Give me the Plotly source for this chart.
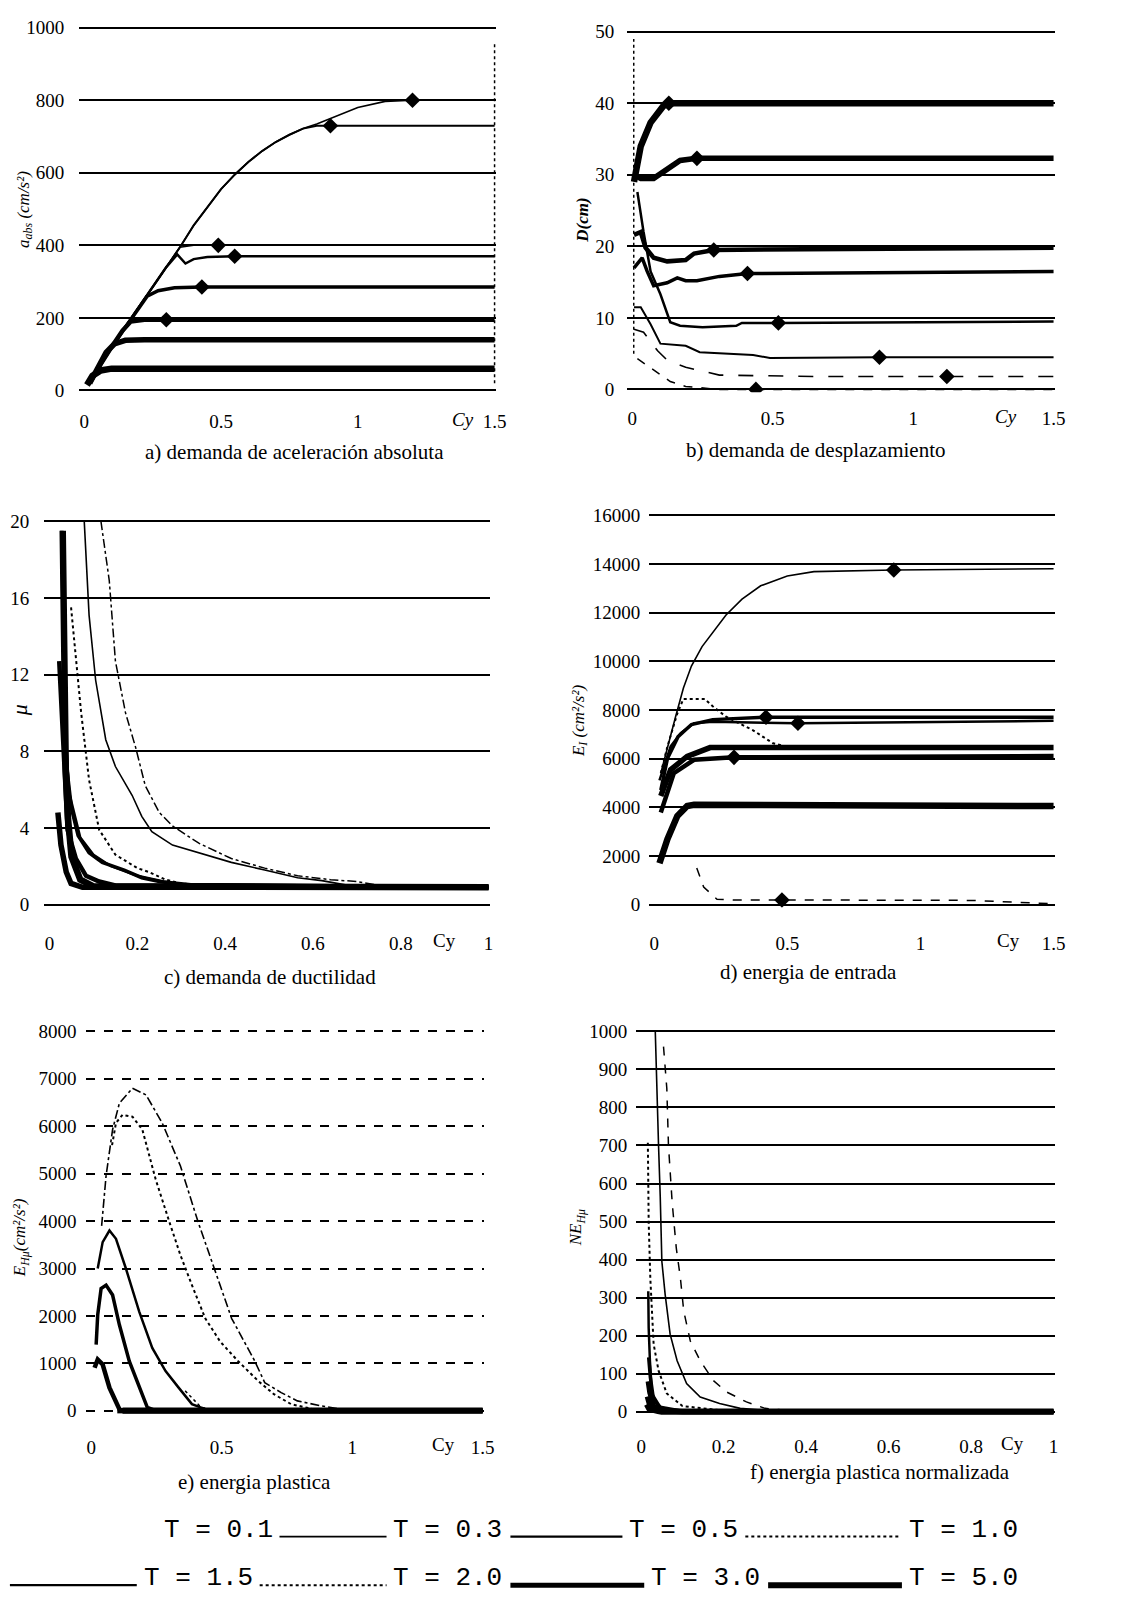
import plotly.graph_objects as go

W, H = 1126, 1609

PERIODS = ["T = 0.1", "T = 0.3", "T = 0.5", "T = 1.0", "T = 1.5", "T = 2.0", "T = 3.0", "T = 5.0"]
WIDTHS = [1.5, 1.6, 2.0, 2.5, 3.5, 4.5, 5.5, 6.5]
DASH_A = ["solid"] * 8
DASH_B = ["dash", "longdash", "solid", "solid", "solid", "solid", "solid", "solid"]
DASH_C = ["dashdot", "solid", "dot", "solid", "solid", "solid", "solid", "solid"]
DASH_D = ["dash", "solid", "dot", "solid", "solid", "solid", "solid", "solid"]
DASH_E = ["dot", "dashdot", "dot", "solid", "solid", "solid", "solid", "solid"]
DASH_F = ["dash", "solid", "dot", "solid", "solid", "solid", "solid", "solid"]

X15_VALS = [0, 0.5, 1, 1.5]
X15_TEXT = ["0", "0.5", "1", "1.5"]
X1_VALS = [0, 0.2, 0.4, 0.6, 0.8, 1]
X1_TEXT = ["0", "0.2", "0.4", "0.6", "0.8", "1"]

# ---------------- a) absolute acceleration demand (cm/s2) ----------------
A01_X = [0.02, 0.05, 0.1, 0.15, 0.2, 0.25, 0.3, 0.35, 0.4, 0.49, 1.5]
A01_Y = [20, 60, 120, 175, 230, 285, 340, 395, 400, 400, 400]
A03_X = [0.02, 0.05, 0.1, 0.15, 0.2, 0.25, 0.3, 0.35, 0.4, 0.45, 0.5, 0.55, 0.6, 0.65, 0.7, 0.75, 0.8, 0.85, 0.9, 1.0, 1.1, 1.2, 1.5]
A03_Y = [20, 60, 120, 175, 230, 285, 340, 395, 455, 505, 555, 595, 630, 660, 685, 705, 722, 735, 750, 780, 797, 800, 800]
A05_X = [0.02, 0.05, 0.1, 0.15, 0.2, 0.25, 0.3, 0.35, 0.4, 0.45, 0.5, 0.55, 0.6, 0.65, 0.7, 0.75, 0.8, 0.85, 0.9, 1.5]
A05_Y = [20, 60, 120, 175, 230, 285, 340, 395, 455, 505, 555, 595, 630, 660, 685, 705, 722, 730, 730, 730]
A10_X = [0.02, 0.05, 0.1, 0.15, 0.2, 0.25, 0.3, 0.34, 0.37, 0.4, 0.45, 0.55, 1.5]
A10_Y = [20, 60, 120, 175, 230, 285, 340, 375, 350, 362, 368, 370, 370]
A15_X = [0.02, 0.05, 0.1, 0.15, 0.2, 0.23, 0.27, 0.33, 0.43, 1.5]
A15_Y = [20, 60, 120, 175, 230, 260, 275, 283, 285, 285]
A20_X = [0.02, 0.05, 0.1, 0.14, 0.17, 0.22, 0.3, 1.5]
A20_Y = [20, 60, 120, 165, 190, 195, 195, 195]
A30_X = [0.02, 0.05, 0.08, 0.11, 0.15, 0.22, 1.5]
A30_Y = [20, 65, 105, 128, 138, 140, 140]
A50_X = [0.01, 0.03, 0.06, 0.1, 1.5]
A50_Y = [15, 40, 55, 60, 60]
A_MK_X = [1.2, 0.9, 0.49, 0.55, 0.43, 0.3]
A_MK_Y = [800, 730, 400, 370, 285, 195]

# ---------------- b) displacement demand (cm) ----------------
B01_X = [0.018, 0.076, 0.135, 0.19, 0.31, 0.44, 1.5]
B01_Y = [4.3, 2.7, 1.1, 0.4, 0.0, 0.0, 0.0]
B03_X = [0.006, 0.04, 0.09, 0.124, 0.19, 0.31, 0.66, 1.12, 1.5]
B03_Y = [8.4, 8.0, 5.4, 4.1, 3.1, 2.0, 1.8, 1.8, 1.8]
B05_X = [0.006, 0.03, 0.065, 0.1, 0.19, 0.24, 0.43, 0.49, 0.88, 1.5]
B05_Y = [11.5, 11.5, 9.1, 6.4, 6.1, 5.2, 4.8, 4.4, 4.5, 4.5]
B10_X = [0.018, 0.04, 0.065, 0.1, 0.135, 0.17, 0.25, 0.37, 0.39, 0.52, 1.5]
B10_Y = [27.6, 22.0, 16.5, 13.3, 9.4, 8.9, 8.7, 8.9, 9.3, 9.3, 9.5]
B15_X = [0.006, 0.035, 0.053, 0.076, 0.124, 0.16, 0.19, 0.23, 0.31, 0.41, 1.5]
B15_Y = [17.0, 18.4, 16.5, 14.5, 14.9, 15.6, 15.2, 15.2, 15.8, 16.2, 16.5]
B20_X = [0.006, 0.03, 0.047, 0.076, 0.124, 0.19, 0.22, 0.29, 1.5]
B20_Y = [21.6, 22.0, 19.8, 18.4, 17.9, 18.1, 19.0, 19.5, 19.8]
B30_X = [0.006, 0.03, 0.076, 0.124, 0.17, 0.23, 1.5]
B30_Y = [30.0, 29.5, 29.5, 30.8, 32.0, 32.3, 32.3]
B50_X = [0.006, 0.03, 0.065, 0.11, 0.13, 1.5]
B50_Y = [29.0, 34.0, 37.3, 39.6, 40.0, 40.0]
B_MK_X = [0.13, 0.23, 0.29, 0.41, 0.52, 0.88, 1.12, 0.44]
B_MK_Y = [40.0, 32.3, 19.5, 16.2, 9.3, 4.5, 1.8, 0.0]

# ---------------- c) ductility demand ----------------
C01_X = [0.117, 0.136, 0.15, 0.173, 0.196, 0.218, 0.25, 0.28, 0.34, 0.414, 0.49, 0.565, 0.64, 0.7, 0.75, 1.0]
C01_Y = [20, 16.9, 12.7, 10, 8.2, 6.2, 4.8, 4.1, 3.2, 2.4, 1.9, 1.5, 1.3, 1.2, 1.0, 0.9]
C03_X = [0.079, 0.09, 0.105, 0.128, 0.15, 0.188, 0.21, 0.233, 0.28, 0.34, 0.414, 0.49, 0.565, 0.62, 0.68, 1.0]
C03_Y = [20, 15.1, 11.7, 8.6, 7.2, 5.7, 4.6, 3.8, 3.1, 2.7, 2.2, 1.8, 1.4, 1.25, 1.0, 0.9]
C05_X = [0.049, 0.064, 0.072, 0.09, 0.113, 0.15, 0.2, 0.226, 0.264, 0.3, 0.4, 1.0]
C05_Y = [15.5, 11.7, 10, 6.5, 3.9, 2.6, 1.9, 1.7, 1.3, 1.1, 0.95, 0.9]
C10_X = [0.036, 0.045, 0.07, 0.1, 0.14, 0.2, 0.26, 0.35, 1.0]
C10_Y = [9.0, 5.8, 3.5, 2.6, 2.0, 1.5, 1.2, 1.0, 0.9]
C15_X = [0.028, 0.031, 0.034, 0.04, 0.05, 0.065, 0.09, 0.12, 0.17, 0.21, 0.25, 0.3, 1.0]
C15_Y = [19.5, 15, 10, 7, 5, 3.6, 2.7, 2.2, 1.8, 1.4, 1.2, 1.05, 0.9]
C20_X = [0.022, 0.028, 0.034, 0.041, 0.06, 0.083, 0.113, 0.15, 1.0]
C20_Y = [12.7, 10, 6.5, 3.9, 2.4, 1.5, 1.2, 1.0, 0.9]
C30_X = [0.019, 0.026, 0.038, 0.049, 0.075, 1.0]
C30_Y = [4.8, 3.1, 1.7, 1.1, 0.9, 0.9]
C50_X = [0.03, 0.032, 0.034, 0.037, 0.042, 0.05, 0.07, 0.1, 1.0]
C50_Y = [19.5, 15, 11, 7, 4.5, 2.5, 1.3, 0.95, 0.9]

# ---------------- d) input energy (cm2/s2) ----------------
D01_X = [0.16, 0.186, 0.236, 0.3, 0.48, 1.2, 1.35, 1.5]
D01_Y = [1500, 720, 220, 190, 190, 170, 100, 30]
D03_X = [0.025, 0.05, 0.08, 0.11, 0.14, 0.18, 0.22, 0.27, 0.33, 0.4, 0.5, 0.6, 0.9, 1.5]
D03_Y = [5400, 6500, 7700, 8900, 9800, 10600, 11200, 11900, 12550, 13100, 13500, 13680, 13750, 13800]
D05_X = [0.025, 0.05, 0.087, 0.11, 0.19, 0.22, 0.27, 0.37, 0.446, 0.5, 1.5]
D05_Y = [5400, 6500, 7850, 8450, 8450, 8150, 7720, 7170, 6630, 6480, 6450]
D10_X = [0.02, 0.062, 0.1, 0.15, 0.22, 0.54, 1.5]
D10_Y = [5100, 6500, 7040, 7450, 7510, 7450, 7550]
D15_X = [0.025, 0.05, 0.09, 0.14, 0.22, 0.42, 1.5]
D15_Y = [4700, 6000, 6900, 7400, 7600, 7700, 7700]
D20_X = [0.025, 0.074, 0.15, 0.3, 1.5]
D20_Y = [3780, 5400, 5950, 6050, 6100]
D30_X = [0.025, 0.062, 0.124, 0.21, 1.5]
D30_Y = [4460, 5540, 6090, 6450, 6450]
D50_X = [0.02, 0.05, 0.087, 0.124, 0.15, 1.5]
D50_Y = [1700, 2690, 3640, 4050, 4100, 4050]
D_MK_X = [0.9, 0.54, 0.42, 0.3, 0.48]
D_MK_Y = [13750, 7450, 7700, 6050, 190]

# ---------------- e) plastic energy (cm2/s2) ----------------
E01_X = [0.36, 0.39, 0.42, 0.47, 1.5]
E01_Y = [420, 250, 80, 0, 0]
E03_X = [0.04, 0.057, 0.082, 0.108, 0.158, 0.21, 0.272, 0.342, 0.41, 0.462, 0.538, 0.627, 0.665, 0.728, 0.79, 0.88, 0.98, 1.5]
E03_Y = [3900, 4950, 5930, 6485, 6800, 6660, 6070, 5160, 3975, 3140, 1950, 1046, 593, 383, 209, 105, 14, 0]
E05_X = [0.08, 0.095, 0.12, 0.158, 0.196, 0.247, 0.3, 0.342, 0.386, 0.437, 0.494, 0.563, 0.64, 0.7, 0.766, 0.85, 0.95, 1.5]
E05_Y = [5600, 6070, 6240, 6200, 5930, 4880, 3975, 3280, 2650, 1950, 1460, 1046, 628, 350, 140, 35, 0, 0]
E10_X = [0.025, 0.044, 0.07, 0.095, 0.133, 0.184, 0.234, 0.285, 0.335, 0.386, 0.437, 0.5, 1.5]
E10_Y = [3000, 3556, 3800, 3626, 3000, 2092, 1325, 837, 488, 140, 35, 0, 0]
E15_X = [0.019, 0.025, 0.038, 0.057, 0.082, 0.108, 0.146, 0.184, 0.215, 0.25, 1.5]
E15_Y = [1395, 2022, 2580, 2650, 2440, 1813, 1046, 488, 70, 0, 0]
E20_X = [0.013, 0.025, 0.044, 0.07, 0.108, 0.12, 1.5]
E20_Y = [907, 1081, 976, 488, 35, 0, 0]
E30_X = [0.1, 1.5]
E30_Y = [0, 0]
E50_X = [0.12, 1.5]
E50_Y = [0, 0]

# ---------------- f) normalised plastic energy ----------------
F01_X = [0.054, 0.062, 0.066, 0.075, 0.085, 0.095, 0.103, 0.119, 0.143, 0.175, 0.207, 0.255, 0.3, 0.4, 1.0]
F01_Y = [960, 850, 700, 550, 430, 351, 265, 186, 134, 82, 52, 26, 9, 0, 0]
F03_X = [0.034, 0.038, 0.042, 0.046, 0.05, 0.058, 0.07, 0.087, 0.11, 0.143, 0.19, 0.24, 0.31, 0.4, 1.0]
F03_Y = [1000, 828, 698, 568, 395, 308, 204, 134, 74, 39, 22, 9, 3, 0, 0]
F05_X = [0.016, 0.017, 0.018, 0.022, 0.03, 0.042, 0.062, 0.1, 0.2, 0.3, 1.0]
F05_Y = [707, 568, 499, 350, 178, 108, 48, 15, 3, 0, 0]
F10_X = [0.017, 0.018, 0.021, 0.026, 0.046, 0.1, 0.2, 1.0]
F10_Y = [317, 221, 134, 48, 13, 3, 0, 0]
F15_X = [0.018, 0.022, 0.03, 0.05, 0.1, 1.0]
F15_Y = [143, 91, 30, 8, 0, 0]
F20_X = [0.016, 0.02, 0.03, 0.06, 0.1, 1.0]
F20_Y = [80, 50, 15, 3, 0, 0]
F30_X = [0.015, 0.02, 0.04, 0.1, 1.0]
F30_Y = [40, 20, 5, 0, 0]
F50_X = [0.014, 0.02, 0.05, 1.0]
F50_Y = [20, 8, 0, 0]

CAPTIONS = ["a) demanda de aceleración absoluta", "b) demanda de desplazamiento",
            "c) demanda de ductilidad", "d) energia de entrada",
            "e) energia plastica", "f) energia plastica normalizada"]
YTITLES = ["<i>a<sub>abs</sub> (cm/s²)</i>", "<b><i>D(cm)</i></b>", "<i>μ</i>",
           "<i>E<sub>I</sub> (cm²/s²)</i>", "<i>E<sub>Hμ</sub>(cm²/s²)</i>", "<i>NE<sub>Hμ</sub></i>"]

PANELS = [
    dict(series=[(A01_X, A01_Y), (A03_X, A03_Y), (A05_X, A05_Y), (A10_X, A10_Y), (A15_X, A15_Y), (A20_X, A20_Y), (A30_X, A30_Y), (A50_X, A50_Y)],
         dash=DASH_A, mk=(A_MK_X, A_MK_Y), xpx=(85, 499), xv=(0, 1.5), ypx=(387, 21), yv=(0, 1000), ytick=200,
         xt=(X15_VALS, X15_TEXT), cap=(297, 449), yt=(25, 204), cy=1.385, cyit=True, xso=15, yso=14, gdash="solid"),
    dict(series=[(B01_X, B01_Y), (B03_X, B03_Y), (B05_X, B05_Y), (B10_X, B10_Y), (B15_X, B15_Y), (B20_X, B20_Y), (B30_X, B30_Y), (B50_X, B50_Y)],
         dash=DASH_B, mk=(B_MK_X, B_MK_Y), xpx=(638, 1063), xv=(0, 1.5), ypx=(386, 25), yv=(0, 50), ytick=10,
         xt=(X15_VALS, X15_TEXT), cap=(823, 447), yt=(588, 215), cy=1.33, cyit=True, xso=13, yso=12, gdash="solid"),
    dict(series=[(C01_X, C01_Y), (C03_X, C03_Y), (C05_X, C05_Y), (C10_X, C10_Y), (C15_X, C15_Y), (C20_X, C20_Y), (C30_X, C30_Y), (C50_X, C50_Y)],
         dash=DASH_C, mk=None, xpx=(50, 493), xv=(0, 1), ypx=(906, 519), yv=(0, 20), ytick=4,
         xt=(X1_VALS, X1_TEXT), cap=(272, 979), yt=(20, 710), cy=0.9, cyit=False, xso=22, yso=14, gdash="solid"),
    dict(series=[(D01_X, D01_Y), (D03_X, D03_Y), (D05_X, D05_Y), (D10_X, D10_Y), (D15_X, D15_Y), (D20_X, D20_Y), (D30_X, D30_Y), (D50_X, D50_Y)],
         dash=DASH_D, mk=(D_MK_X, D_MK_Y), xpx=(660, 1063), xv=(0, 1.5), ypx=(906, 513), yv=(0, 16000), ytick=2000,
         xt=(X15_VALS, X15_TEXT), cap=(816, 974), yt=(585, 720), cy=1.33, cyit=False, xso=22, yso=8, gdash="solid"),
    dict(series=[(E01_X, E01_Y), (E03_X, E03_Y), (E05_X, E05_Y), (E10_X, E10_Y), (E15_X, E15_Y), (E20_X, E20_Y), (E30_X, E30_Y), (E50_X, E50_Y)],
         dash=DASH_E, mk=None, xpx=(92, 487), xv=(0, 1.5), ypx=(1417, 1034), yv=(0, 8000), ytick=1000,
         xt=(X15_VALS, X15_TEXT), cap=(257, 1489), yt=(22, 1242), cy=1.35, cyit=False, xso=20, yso=9, gdash="dash"),
    dict(series=[(F01_X, F01_Y), (F03_X, F03_Y), (F05_X, F05_Y), (F10_X, F10_Y), (F15_X, F15_Y), (F20_X, F20_Y), (F30_X, F30_Y), (F50_X, F50_Y)],
         dash=DASH_F, mk=None, xpx=(647, 1063), xv=(0, 1), ypx=(1418, 1034), yv=(0, 1000), ytick=100,
         xt=(X1_VALS, X1_TEXT), cap=(888, 1479), yt=(582, 1232), cy=0.9, cyit=False, xso=18, yso=8, gdash="solid"),
]

SERIF = "Liberation Serif"
TICKFONT = dict(family=SERIF, size=19, color="black")


def xdom(p0, p1, v0, v1, lpad, rpad):
    s = (p1 - p0) / (v1 - v0)
    a = p0 - lpad * s
    b = p1 + rpad * s
    return [a / W, b / W], [v0 - lpad, v1 + rpad]


def ydom(pb, pt, v0, v1, bpad, tpad):
    s = (pb - pt) / (v1 - v0)
    bot = pb + bpad * s
    top = pt - tpad * s
    return [1 - bot / H, 1 - top / H], [v0 - bpad, v1 + tpad]


fig = go.Figure()
annotations = []
shapes = []

for i, p in enumerate(PANELS):
    n = "" if i == 0 else str(i + 1)
    xspan = p["xv"][1] - p["xv"][0]
    yspan = p["yv"][1] - p["yv"][0]
    xd, xr = xdom(p["xpx"][0], p["xpx"][1], p["xv"][0], p["xv"][1], 0.012 * xspan, 0.004 * xspan)
    yd, yr = ydom(p["ypx"][0], p["ypx"][1], p["yv"][0], p["yv"][1], 0.008 * yspan, 0.008 * yspan)
    for k, (xs, ys) in enumerate(p["series"]):
        fig.add_trace(go.Scatter(x=xs, y=ys, mode="lines", name=PERIODS[k],
                                 line=dict(color="black", width=WIDTHS[k], dash=p["dash"][k]),
                                 xaxis="x" + n, yaxis="y" + n, showlegend=False))
    if p["mk"] is not None:
        fig.add_trace(go.Scatter(x=p["mk"][0], y=p["mk"][1], mode="markers",
                                 marker=dict(symbol="diamond", size=12, color="black"),
                                 xaxis="x" + n, yaxis="y" + n, showlegend=False))
    yvals = list(range(int(p["yv"][0]), int(p["yv"][1]) + 1, int(p["ytick"])))
    fig.layout["xaxis" + n] = dict(domain=xd, range=xr, anchor="y" + n,
                                   tickvals=p["xt"][0], ticktext=p["xt"][1],
                                   showgrid=False, zeroline=False, showline=False, ticks="",
                                   tickfont=TICKFONT, ticklabelstandoff=p["xso"])
    fig.layout["yaxis" + n] = dict(domain=yd, range=yr, anchor="x" + n, tickvals=yvals,
                                   ticktext=[str(v) for v in yvals],
                                   showgrid=True, gridcolor="black", gridwidth=1.6, griddash=p["gdash"],
                                   zeroline=False, showline=False, ticks="",
                                   tickfont=TICKFONT, ticklabelstandoff=p["yso"])
    annotations.append(dict(text=CAPTIONS[i], x=p["cap"][0] / W, y=1 - p["cap"][1] / H,
                            xref="paper", yref="paper", showarrow=False, xanchor="center", yanchor="middle",
                            font=dict(family=SERIF, size=21, color="black")))
    annotations.append(dict(text=YTITLES[i], x=p["yt"][0] / W, y=1 - p["yt"][1] / H, textangle=-90,
                            xref="paper", yref="paper", showarrow=False, xanchor="center", yanchor="middle",
                            font=dict(family=SERIF, size=17 if i != 2 else 22, color="black")))
    ylab = p["ypx"][0] + p["xso"] + 14
    annotations.append(dict(text="<i>Cy</i>" if p["cyit"] else "Cy", x=p["cy"], y=1 - ylab / H,
                            xref="x" + n, yref="paper", showarrow=False, xanchor="center", yanchor="middle",
                            font=TICKFONT))

# scanned chart-border fragments
shapes.append(dict(type="line", xref="x", yref="y", x0=1.5, x1=1.5, y0=20, y1=960,
                   line=dict(color="black", width=1.5, dash="dot")))
shapes.append(dict(type="line", xref="x2", yref="y2", x0=0.005, x1=0.005, y0=5, y1=49,
                   line=dict(color="black", width=1.5, dash="dot")))

# ---------------- legend (two rows, as in the source figure) ----------------
LEG_FONT = dict(family="Liberation Mono", size=26, color="black")
ROW1_TEXT_X = [220, 452, 690, 972]
ROW1_LINES = [(282, 390, 1.6, "solid"), (515, 628, 2.2, "solid"), (752, 908, 2.0, "dot")]
ROW2_TEXT_X = [200, 452, 712, 972]
ROW2_LINES = [(10, 138, 2.2, "solid"), (262, 390, 2.0, "dot"), (515, 650, 5.0, "solid"), (775, 910, 6.0, "solid")]
ROW1_Y, ROW2_Y = 1537, 1586
for j, tx in enumerate(ROW1_TEXT_X):
    annotations.append(dict(text=PERIODS[j], x=tx / W, y=1 - ROW1_Y / H, xref="paper", yref="paper",
                            showarrow=False, xanchor="center", yanchor="middle", font=LEG_FONT))
for j, tx in enumerate(ROW2_TEXT_X):
    annotations.append(dict(text=PERIODS[4 + j], x=tx / W, y=1 - ROW2_Y / H, xref="paper", yref="paper",
                            showarrow=False, xanchor="center", yanchor="middle", font=LEG_FONT))
for (a, b, w, d) in ROW1_LINES:
    shapes.append(dict(type="line", xref="paper", yref="paper", x0=a / W, x1=b / W,
                       y0=1 - (ROW1_Y + 7) / H, y1=1 - (ROW1_Y + 7) / H, line=dict(color="black", width=w, dash=d)))
for (a, b, w, d) in ROW2_LINES:
    shapes.append(dict(type="line", xref="paper", yref="paper", x0=a / W, x1=b / W,
                       y0=1 - (ROW2_Y + 7) / H, y1=1 - (ROW2_Y + 7) / H, line=dict(color="black", width=w, dash=d)))

fig.update_layout(width=W, height=H, margin=dict(l=0, r=0, t=0, b=0),
                  paper_bgcolor="white", plot_bgcolor="white",
                  annotations=annotations, shapes=shapes, showlegend=False)

fig.write_html("out.html")
